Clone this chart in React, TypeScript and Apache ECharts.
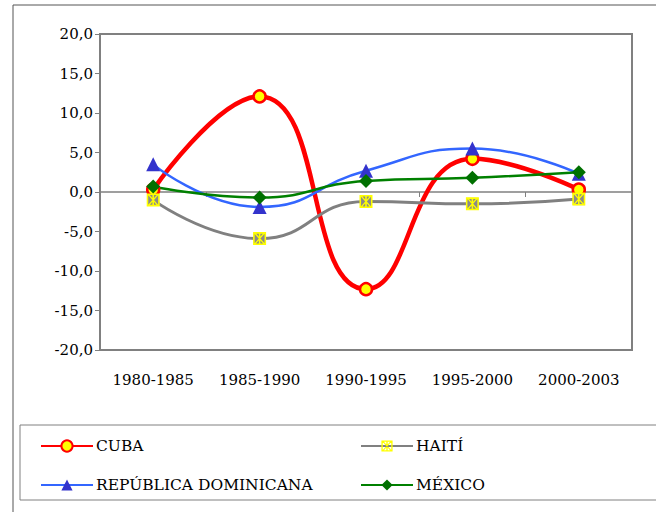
import React, { useEffect, useRef } from "react";
import * as echarts from "echarts";

const categories = ["1980-1985", "1985-1990", "1990-1995", "1995-2000", "2000-2003"];
const seriesNames = ["CUBA", "HAITÍ", "REPÚBLICA DOMINICANA", "MÉXICO"];
const cuba = [0.3, 12.1, -12.3, 4.2, 0.3];
const haiti = [-1.0, -5.9, -1.2, -1.5, -0.9];
const repDom = [3.5, -1.9, 2.7, 5.5, 2.3];
const mexico = [0.7, -0.7, 1.4, 1.8, 2.5];
const yMin = -20;
const yMax = 20;
const yStep = 5;

const FONT = "DejaVu Serif";
const starPath =
  "path://M0,0L10,0L10,1.2L0,1.2ZM0,8.8L10,8.8L10,10L0,10ZM0,0L1.2,0L1.2,10L0,10ZM8.8,0L10,0L10,10L8.8,10ZM4.4,0L5.6,0L5.6,10L4.4,10ZM0,0L1.3,0L10,10L8.7,10ZM8.7,0L10,0L1.3,10L0,10Z";

export default function App() {
  const ref = useRef<HTMLDivElement>(null);
  useEffect(() => {
    document.body.style.margin = "0";
    const chart = echarts.init(ref.current!, null, { renderer: "svg" });
    const legendPos = [
      { left: 40, top: 438 },
      { left: 360, top: 438 },
      { left: 40, top: 477 },
      { left: 360, top: 477 },
    ];
    chart.setOption({
      animation: false,
      backgroundColor: "#ffffff",
      textStyle: { fontFamily: FONT },
      grid: {
        left: 100,
        right: 24,
        top: 34,
        bottom: 162,
        show: true,
        borderColor: "#808080",
        borderWidth: 2,
        backgroundColor: "transparent",
      },
      graphic: [
        {
          type: "rect",
          shape: { x: 13, y: 5, width: 700, height: 600 },
          style: { fill: "none", stroke: "#555555", lineWidth: 1 },
          silent: true,
          z: -10,
        },
        {
          type: "rect",
          shape: { x: 20, y: 425, width: 700, height: 75 },
          style: { fill: "none", stroke: "#808080", lineWidth: 1 },
          silent: true,
        },
      ],
      legend: seriesNames.map((n, i) => ({
        data: [n],
        left: legendPos[i].left,
        top: legendPos[i].top,
        itemWidth: 52,
        itemHeight: 14,
        itemGap: 0,
        padding: 0,
        selectedMode: false,
        textStyle: { fontFamily: FONT, fontSize: 15.5, color: "#000", padding: [0, 0, 0, -2] },
      })),
      xAxis: [
        {
          type: "category",
          data: categories,
          boundaryGap: true,
          axisLine: { show: true, onZero: true, lineStyle: { color: "#808080", width: 1.5 } },
          axisTick: { show: true, inside: false, length: 5, lineStyle: { color: "#808080" } },
          axisLabel: { show: false },
          splitLine: { show: false },
        },
        {
          type: "category",
          data: categories,
          position: "bottom",
          boundaryGap: true,
          axisLine: { show: false, onZero: false },
          axisTick: { show: false },
          axisLabel: { show: true, fontFamily: FONT, fontSize: 15, color: "#000", margin: 22 },
          splitLine: { show: false },
        },
      ],
      yAxis: {
        type: "value",
        min: yMin,
        max: yMax,
        interval: yStep,
        axisLine: { show: true, lineStyle: { color: "#808080", width: 1.5 } },
        axisTick: { show: true, length: 5, lineStyle: { color: "#808080" } },
        axisLabel: {
          fontFamily: FONT,
          fontSize: 15,
          color: "#000",
          margin: 7,
          formatter: (v: number) => v.toFixed(1).replace(".", ","),
        },
        splitLine: { show: false },
      },
      series: [
        {
          name: seriesNames[0],
          type: "line",
          data: cuba,
          smooth: 0.5,
          symbol: "circle",
          symbolSize: 12,
          lineStyle: { color: "#FF0000", width: 4.5 },
          itemStyle: { color: "#FFFF00", borderColor: "#FF0000", borderWidth: 2.5 },
        },
        {
          name: "HAITÍ-bg",
          type: "line",
          data: haiti,
          symbol: "rect",
          symbolSize: 12,
          lineStyle: { width: 0, opacity: 0 },
          itemStyle: { color: "#8a8a8a" },
          silent: true,
        },
        {
          name: seriesNames[1],
          type: "line",
          data: haiti,
          smooth: 0.5,
          symbol: starPath,
          symbolSize: 13,
          lineStyle: { color: "#808080", width: 3 },
          itemStyle: { color: "#FFFF00", borderWidth: 0 },
        },
        {
          name: seriesNames[2],
          type: "line",
          data: repDom,
          smooth: 0.5,
          symbol: "triangle",
          symbolSize: 14,
          lineStyle: { color: "#3366FF", width: 2.5 },
          itemStyle: { color: "#3333CC" },
        },
        {
          name: seriesNames[3],
          type: "line",
          data: mexico,
          smooth: 0.5,
          symbol: "diamond",
          symbolSize: 14,
          lineStyle: { color: "#008000", width: 2.5 },
          itemStyle: { color: "#007000" },
        },
      ],
    });
    return () => chart.dispose();
  }, []);
  return <div ref={ref} style={{ width: 656, height: 512 }} />;
}
